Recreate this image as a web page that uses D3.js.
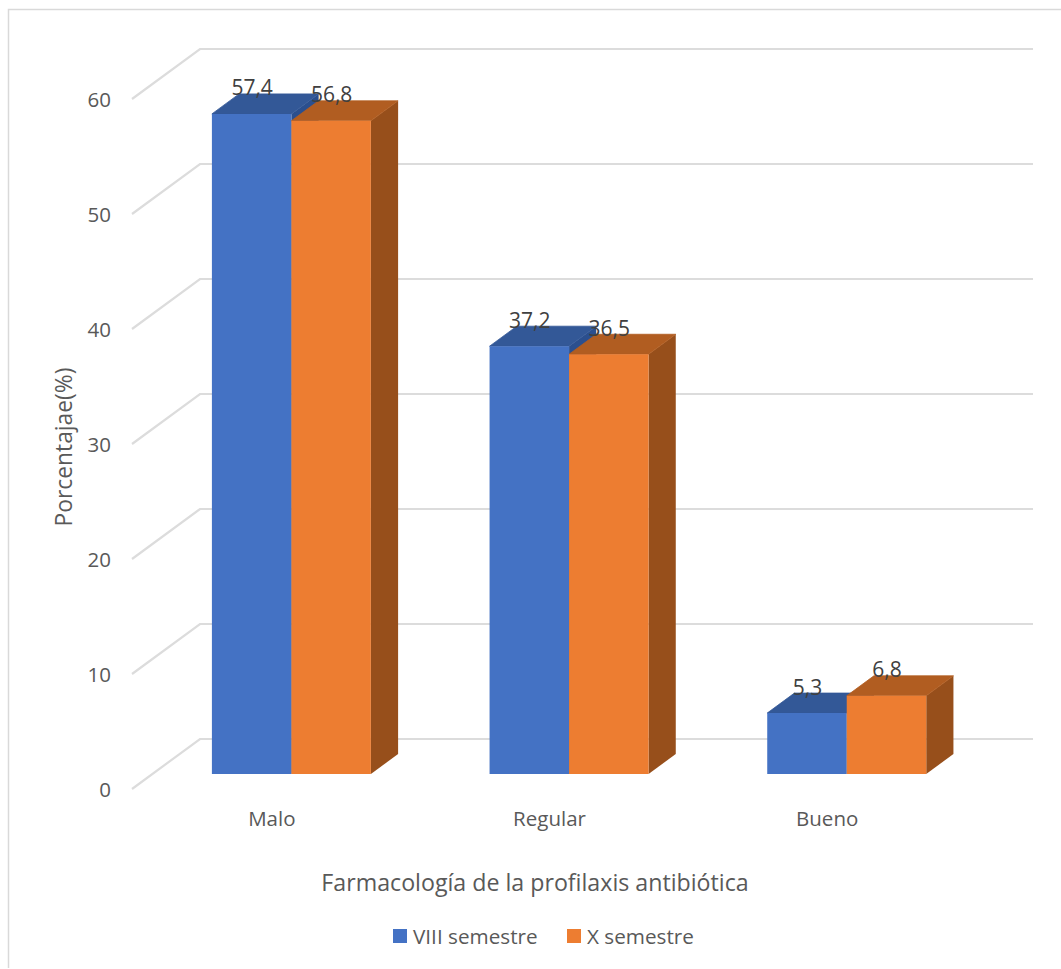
<!DOCTYPE html>
<html>
<head>
<meta charset="utf-8">
<script src="https://cdn.jsdelivr.net/npm/d3@7"></script>
<style>
  html, body { margin: 0; padding: 0; background: #fff; }
  svg { display: block; }
  text { font-family: "Open Sans", sans-serif; }
</style>
</head>
<body>
<svg id="chart" width="1061" height="969"></svg>
<script>
// Chart data
const categories = ["Malo", "Regular", "Bueno"];
const seriesNames = ["VIII semestre", "X semestre"];
const octavoValues = [57.4, 37.2, 5.3];
const decimoValues = [56.8, 36.5, 6.8];
const tickValues = [0, 10, 20, 30, 40, 50, 60];

const svg = d3.select("#chart");

// Front plane scales; depth is projected as a shear towards the upper right
const x = d3.scaleBand().domain(categories).range([132, 965]).paddingInner(0).paddingOuter(0);
const y = d3.scaleLinear().domain([0, 60]).range([789, 99]);
const depthX = 68, depthY = -50;
const barFront = 0.3, barBack = 0.7;
const project = (px, py, t) => [px + depthX * t, py + depthY * t];

const colors = [
  { front: "#4472C4", top: "#335897", side: "#2B4F8E" },
  { front: "#ED7D31", top: "#B15D21", side: "#974F1B" }
];
const gridColor = "#DCDCDC";

// Outer frame: only the top and left edges are drawn
svg.append("path")
  .attr("d", "M8.5,968V9.5H1061")
  .attr("fill", "none").attr("stroke", "#D9D9D9").attr("stroke-width", 1.5);

// Floor/side wall diagonals and back wall gridlines
const grid = svg.append("g").attr("fill", "none").attr("stroke", gridColor).attr("stroke-width", 2.2);
tickValues.forEach(v => {
  const a = [x.range()[0], y(v)];
  const b = project(a[0], a[1], 1);
  const c = project(x.range()[1], y(v), 1);
  grid.append("path").attr("d", d3.line()([a, b, c]));
});

// Bars, drawn back to front inside each category
const barWidth = 79.5;
const barOffset = 59.5;
const seriesValues = [octavoValues, decimoValues];

function face(points, fill, edge) {
  const p = svg.append("path").attr("d", d3.line()(points) + "Z").attr("fill", fill);
  if (edge) p.attr("stroke", fill).attr("stroke-width", edge).attr("stroke-linejoin", "round");
  return p;
}

const labels = [];
categories.forEach((cat, ci) => {
  seriesValues.forEach((vals, si) => {
    const v = vals[ci];
    const left = x(cat) + barOffset + si * barWidth;
    const right = left + barWidth;
    const pf = (px, py) => project(px, py, barFront);
    const pb = (px, py) => project(px, py, barBack);
    const c = colors[si];

    // Right side face
    face([pf(right, y(0)), pb(right, y(0)), pb(right, y(v)), pf(right, y(v))], c.side);
    // Top face, with a hairline edge so no darker neighbour bleeds through the seam
    face([pf(left, y(v)), pb(left, y(v)), pb(right, y(v)), pf(right, y(v))], c.top, 0.8);
    // Front face
    face([pf(left, y(0)), pf(left, y(v)), pf(right, y(v)), pf(right, y(0))], c.front);

    labels.push({ value: v, cx: pf((left + right) / 2, 0)[0] + 0.5, by: pb(left, y(v))[1] + 1.5 });
  });
});

// Value labels use a decimal comma
const fmt = v => v.toFixed(1).replace(".", ",");
svg.append("g").selectAll("text").data(labels).join("text")
  .attr("x", d => d.cx)
  .attr("y", d => d.by)
  .attr("text-anchor", "middle")
  .attr("font-size", 21)
  .attr("fill", "#404040")
  .text(d => fmt(d.value));

// Value axis labels
const yAxis = svg.append("g")
  .attr("transform", "translate(111,1)")
  .call(d3.axisLeft(y).tickValues(tickValues).tickSize(0).tickPadding(0).tickFormat(d3.format("d")));
yAxis.select(".domain").remove();
yAxis.selectAll("text")
  .attr("font-size", 20.5).attr("fill", "#595959")
  .style("font-family", '"Open Sans", sans-serif');

// Category axis labels
const xAxis = svg.append("g")
  .attr("transform", "translate(1,811)")
  .call(d3.axisBottom(x).tickSize(0).tickPadding(0));
xAxis.select(".domain").remove();
xAxis.selectAll("text")
  .attr("font-size", 20.5).attr("fill", "#595959")
  .style("font-family", '"Open Sans", sans-serif');

// Axis titles
svg.append("text")
  .attr("transform", "translate(72,447) rotate(-90)")
  .attr("text-anchor", "middle")
  .attr("font-size", 22.8).attr("fill", "#595959")
  .text("Porcentajae(%)");

svg.append("text")
  .attr("x", 535).attr("y", 891)
  .attr("text-anchor", "middle")
  .attr("font-size", 23.2).attr("fill", "#595959")
  .text("Farmacología de la profilaxis antibiótica");

// Legend
const legendX = [393, 567];
const legend = svg.append("g");
seriesNames.forEach((name, i) => {
  legend.append("rect")
    .attr("x", legendX[i]).attr("y", 929)
    .attr("width", 14).attr("height", 14)
    .attr("fill", colors[i].front);
  legend.append("text")
    .attr("x", legendX[i] + 20).attr("y", 944)
    .attr("font-size", 20.7).attr("fill", "#595959")
    .text(name);
});
</script>
</body>
</html>
